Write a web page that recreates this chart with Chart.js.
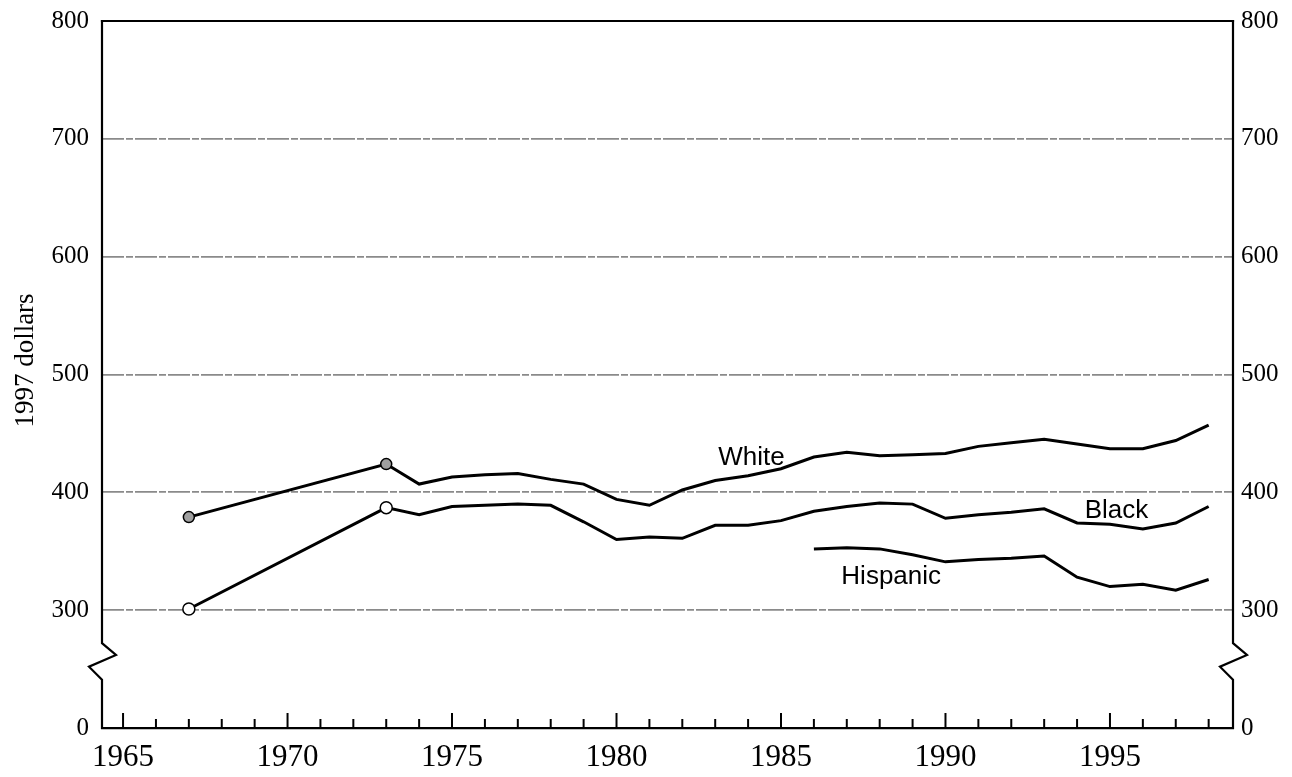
<!DOCTYPE html>
<html>
<head>
<meta charset="utf-8">
<script src="https://cdn.jsdelivr.net/npm/chart.js@4/dist/chart.umd.min.js"></script>
<style>
  html, body { margin: 0; padding: 0; background: #fff; }
  #wrap { width: 1292px; height: 777px; }
</style>
</head>
<body>
<div id="wrap"><canvas id="c" width="1292" height="777"></canvas></div>
<script>
// ---- data ----
const years = [1967, 1973, 1974, 1975, 1976, 1977, 1978, 1979, 1980, 1981, 1982, 1983, 1984,
               1985, 1986, 1987, 1988, 1989, 1990, 1991, 1992, 1993, 1994, 1995, 1996, 1997, 1998];
const whiteValues = [379, 424, 407, 413, 415, 416, 411, 407, 394, 389, 402, 410, 414,
                     420, 430, 434, 431, 432, 433, 439, 442, 445, 441, 437, 437, 444, 457];
const blackValues = [301, 387, 381, 388, 389, 390, 389, 375, 360, 362, 361, 372, 372,
                     376, 384, 388, 391, 390, 378, 381, 383, 386, 374, 373, 369, 374, 388];
const hispanicYears = [1986, 1987, 1988, 1989, 1990, 1991, 1992, 1993, 1994, 1995, 1996, 1997, 1998];
const hispanicValues = [352, 353, 352, 347, 341, 343, 344, 346, 328, 320, 322, 317, 326];
const yTickValues = [0, 300, 400, 500, 600, 700, 800];
const xLabelYears = [1965, 1970, 1975, 1980, 1985, 1990, 1995];
const seriesLabels = [
  { text: 'White', year: 1984.1, value: 429 },
  { text: 'Black', year: 1995.2, value: 384 },
  { text: 'Hispanic', year: 1988.35, value: 328 }
];

// axis break: real values 0..300 are drawn compressed into display 200..300
const BREAK = 300;
function toDisplay(v) { return v >= BREAK ? v : 200 + v / 3; }
function fromDisplay(d) { return d >= BREAK ? d : (d - 200) * 3; }

function pts(xs, ys) { return xs.map((x, i) => ({ x: x, y: toDisplay(ys[i]) })); }

const serif = '"Liberation Serif", "DejaVu Serif", serif';
const sans = '"Liberation Sans", Arial, sans-serif';

const framePlugin = {
  id: 'frame',
  afterDatasetsDraw(chart) {
    const { ctx, chartArea: a, scales } = chart;
    const y = scales.y, x = scales.x;
    ctx.save();
    ctx.strokeStyle = '#000';
    ctx.lineWidth = 2.2;
    ctx.lineCap = 'square';
    // top border
    ctx.beginPath();
    ctx.moveTo(a.left, a.top); ctx.lineTo(a.right, a.top); ctx.stroke();
    // side axes with break zigzag
    const yb1 = y.getPixelForValue(272), yb2 = y.getPixelForValue(262),
          yb3 = y.getPixelForValue(252), yb4 = y.getPixelForValue(241);
    [a.left, a.right].forEach(ax => {
      ctx.beginPath();
      ctx.lineJoin = 'miter';
      ctx.moveTo(ax, a.top);
      ctx.lineTo(ax, yb1);
      ctx.lineTo(ax + 14, yb2);
      ctx.lineTo(ax - 13, yb3);
      ctx.lineTo(ax, yb4);
      ctx.lineTo(ax, a.bottom);
      ctx.stroke();
    });
    // inner tick marks on x axis
    ctx.lineWidth = 2;
    ctx.lineCap = 'butt';
    x.ticks.forEach(t => {
      const v = t.value;
      if (Math.abs(v - Math.round(v)) > 1e-6 || v < 1965 || v > 1998) return;
      const px = x.getPixelForValue(v);
      const len = (Math.round(v) % 5 === 0) ? 15 : 9;
      ctx.beginPath();
      ctx.moveTo(px, a.bottom); ctx.lineTo(px, a.bottom - len); ctx.stroke();
    });
    // series labels
    ctx.fillStyle = '#000';
    ctx.font = '26px ' + sans;
    ctx.textAlign = 'center';
    ctx.textBaseline = 'middle';
    seriesLabels.forEach(l => {
      ctx.fillText(l.text, x.getPixelForValue(l.year), y.getPixelForValue(toDisplay(l.value)));
    });
    // y axis title
    ctx.save();
    ctx.translate(26, (a.top + a.bottom) / 2 - 14);
    ctx.rotate(-Math.PI / 2);
    ctx.font = '27px ' + serif;
    ctx.fillText('1997 dollars', 0, 0);
    ctx.restore();
    ctx.restore();
  }
};

const yTickDisplay = yTickValues.map(toDisplay);

function yAxis(position, pad, width, grid) {
  return {
    type: 'linear',
    position: position,
    min: 200, max: 800,
    afterBuildTicks(scale) { scale.ticks = yTickDisplay.map(v => ({ value: v })); },
    afterFit(scale) { scale.width = width; scale.paddingTop = 0; scale.paddingBottom = 0; },
    ticks: {
      callback: v => String(Math.round(fromDisplay(v))),
      font: { family: serif, size: 25 },
      color: '#000',
      padding: pad
    },
    border: { display: false, dash: [22, 2, 7, 2] },
    grid: grid ? {
      drawTicks: false,
      lineWidth: 1.8,
      color: c => (c.tick && c.tick.value > 250 && c.tick.value < 750) ? '#8a8a8a' : 'rgba(0,0,0,0)'
    } : { display: false, drawTicks: false }
  };
}

new Chart(document.getElementById('c'), {
  type: 'line',
  data: {
    datasets: [
      {
        label: 'White',
        data: pts(years, whiteValues),
        borderColor: '#000', borderWidth: 3,
        pointRadius: c => c.dataIndex < 2 ? 5.5 : 0,
        pointBackgroundColor: '#a0a0a0', pointBorderColor: '#000', pointBorderWidth: 1.5,
        tension: 0
      },
      {
        label: 'Black',
        data: pts(years, blackValues),
        borderColor: '#000', borderWidth: 3,
        pointRadius: c => c.dataIndex < 2 ? 6 : 0,
        pointBackgroundColor: '#fff', pointBorderColor: '#000', pointBorderWidth: 1.5,
        tension: 0
      },
      {
        label: 'Hispanic',
        data: pts(hispanicYears, hispanicValues),
        borderColor: '#000', borderWidth: 3,
        pointRadius: 0,
        tension: 0
      }
    ]
  },
  options: {
    responsive: false,
    animation: false,
    layout: { padding: { top: 21, left: 0, right: 0, bottom: 0 } },
    plugins: { legend: { display: false }, tooltip: { enabled: false } },
    scales: {
      x: {
        type: 'linear',
        position: 'bottom',
        min: 1964.36, max: 1998.74,
        afterBuildTicks(scale) {
          const t = [];
          for (let yr = 1965; yr <= 1998; yr++) t.push({ value: yr });
          scale.ticks = t;
        },
        afterFit(scale) { scale.height = 49; scale.paddingLeft = 0; scale.paddingRight = 0; },
        ticks: {
          autoSkip: false, maxRotation: 0,
          callback: v => xLabelYears.includes(v) ? String(v) : '',
          font: { family: serif, size: 31 },
          color: '#000',
          padding: 11
        },
        grid: { display: false, drawTicks: false },
        border: { display: true, color: '#000', width: 2.2 }
      },
      y: yAxis('left', 13, 102, true),
      y2: yAxis('right', 8, 59, false)
    }
  },
  plugins: [framePlugin]
});
</script>
</body>
</html>
